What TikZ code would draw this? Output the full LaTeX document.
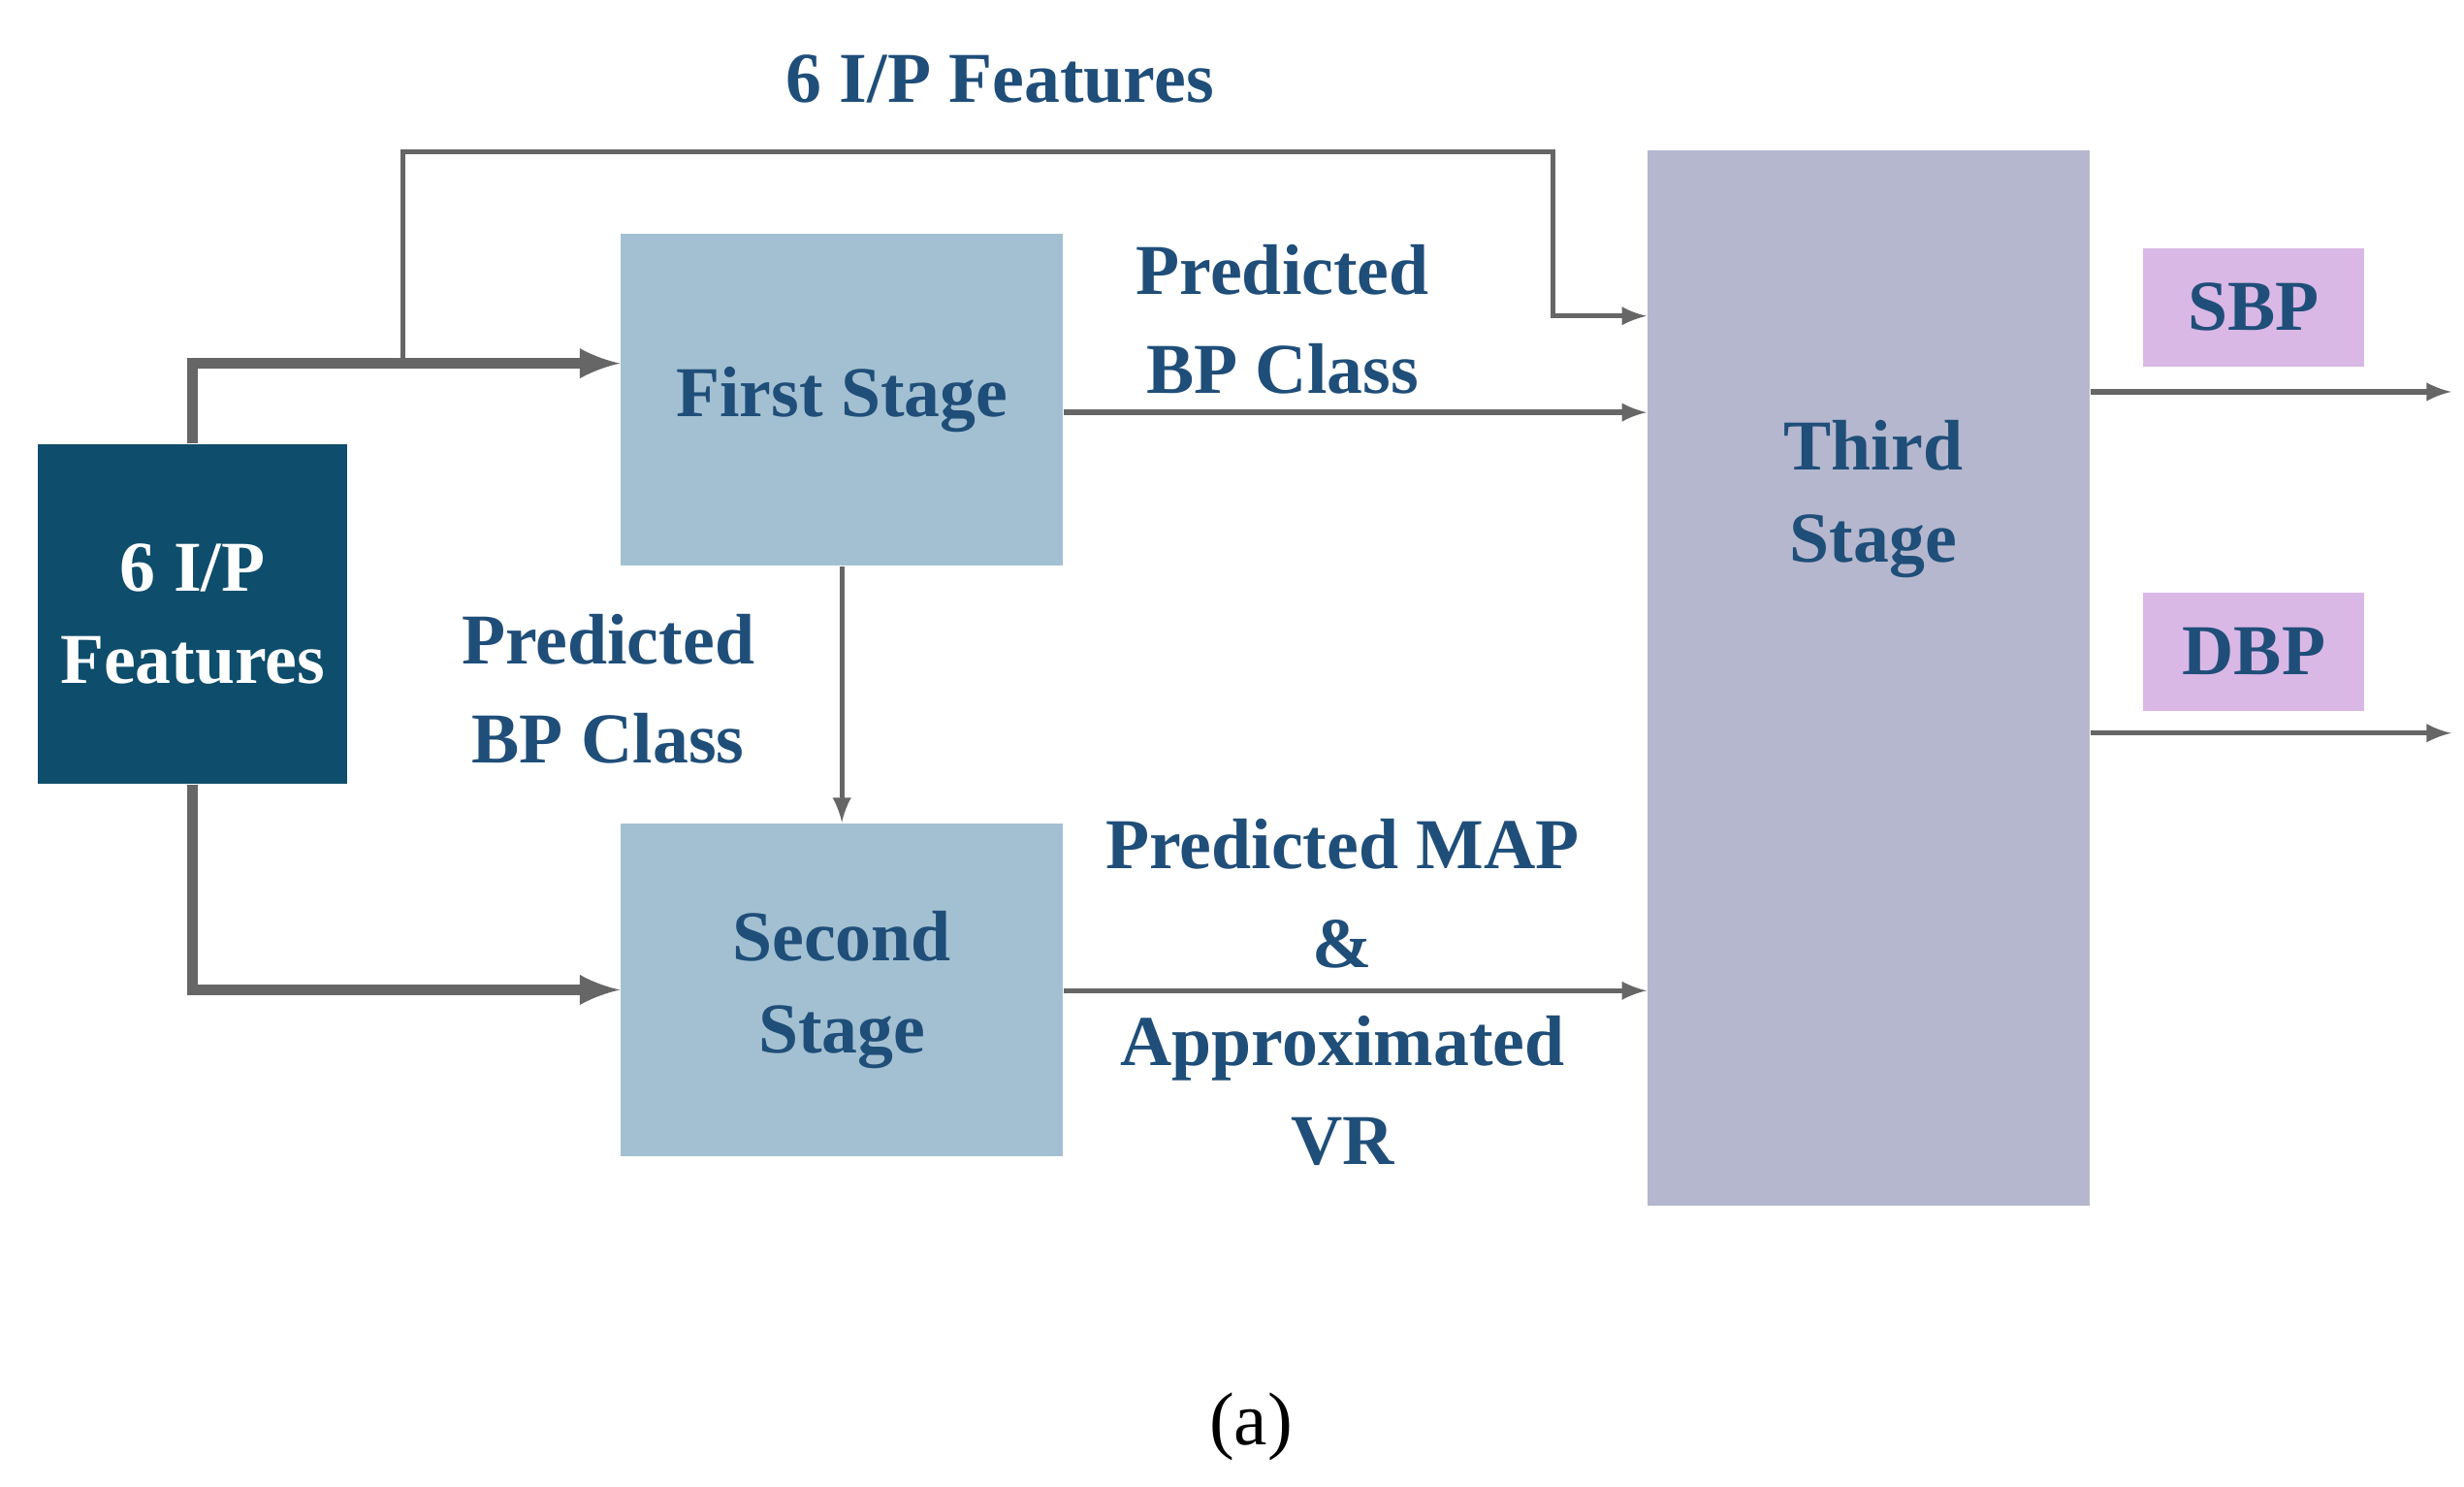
\documentclass[tikz,border=0pt]{standalone}
\usepackage{fontspec}
\setmainfont{Liberation Serif}
\usetikzlibrary{calc}
\definecolor{inbox}{HTML}{0E4D6B}
\definecolor{stagebox}{HTML}{A3C0D2}
\definecolor{thirdbox}{HTML}{B5B7CE}
\definecolor{outbox}{HTML}{D9B8E6}
\definecolor{txtblue}{HTML}{1F4E79}
\definecolor{linegray}{HTML}{666666}
\tikzset{
  blk/.style={inner sep=0pt, align=center, font=\bfseries\fontsize{21}{27}\selectfont, text=txtblue},
  lbl/.style={align=center, font=\bfseries\fontsize{21}{29}\selectfont, text=txtblue},
  thin arrow/.style={draw=linegray, line width=1.5pt, -latex},
  thick arrow/.style={draw=linegray, line width=3pt, -latex}
}
\begin{document}
\begin{tikzpicture}[x=0.01629cm, y=-0.01629cm]
    \useasboundingbox (0,0) rectangle (1560,941);

    \node (inp) [blk, fill=inbox, text=white, minimum width=196*0.01629cm, minimum height=215*0.01629cm] at (122,388.5) {6 I/P\\Features};
    \node (first) [blk, fill=stagebox, minimum width=280*0.01629cm, minimum height=210*0.01629cm] at (533,253) {First Stage};
    \node (second) [blk, fill=stagebox, minimum width=280*0.01629cm, minimum height=211*0.01629cm] at (533,626.5) {Second\\Stage};
    \node (third) [blk, fill=thirdbox, minimum width=280*0.01629cm, minimum height=668*0.01629cm] at (1183,429) {};
    \node (thirdtxt) [blk] at (1186,316) {Third\\Stage};
    \node (sbp) [blk, fill=outbox, minimum width=140*0.01629cm, minimum height=75*0.01629cm] at (1427,194.5) {SBP};
    \node (dbp) [blk, fill=outbox, minimum width=140*0.01629cm, minimum height=75*0.01629cm] at (1427,412.5) {DBP};

    \coordinate (split) at (255,230);
    \coordinate (sbpend) at (1552,248);
    \coordinate (dbpend) at (1552,464);

    % inputs
    \draw[thick arrow] (inp.north) |- (first.west |- split);
    \draw[thin arrow] (split) -- (255,96) -| (983,200) -- (third.west |- 0,200);
    \draw[thick arrow] (inp.south) |- (second.west);
    % stage links
    \draw[thin arrow] (first.east |- 0,261) -- (third.west |- 0,261);
    \draw[thin arrow] (first.south) -- (second.north);
    \draw[thin arrow] (second.east |- 0,627) -- (third.west |- 0,627);
    % outputs
    \draw[thin arrow] (third.east |- sbpend) -- (sbpend);
    \draw[thin arrow] (third.east |- dbpend) -- (dbpend);

    \node (l1) [lbl] at (633,50) {6 I/P Features};
    \node (l2) [lbl] at (812,202) {Predicted\\BP Class};
    \node (l3) [lbl] at (385,436) {Predicted\\BP Class};
    \node (l4) [lbl] at (850,628) {Predicted MAP\\\&\\Approximated\\VR};
    \node (cap) [font=\fontsize{22}{26}\selectfont] at (792,903) {(a)};
\end{tikzpicture}
\end{document}
